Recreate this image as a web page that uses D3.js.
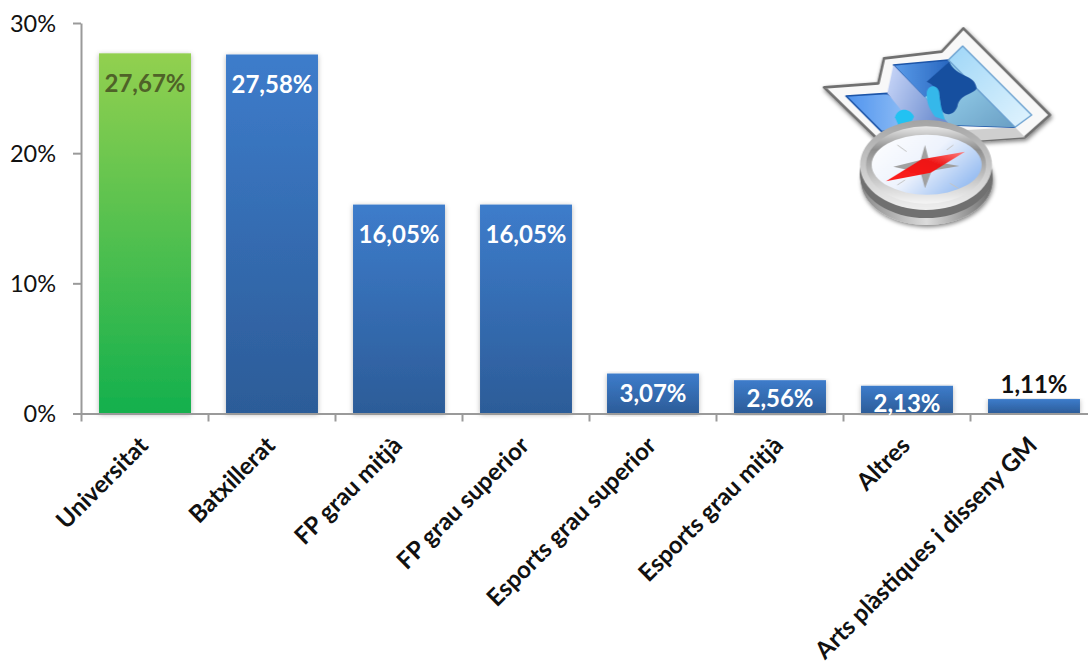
<!DOCTYPE html>
<html>
<head>
<meta charset="utf-8">
<script src="https://cdn.jsdelivr.net/npm/d3@7"></script>
<style>
html,body{margin:0;padding:0;background:#fff;overflow:hidden}
svg{display:block}
svg text{font-family:Lato,"Open Sans",sans-serif}
</style>
</head>
<body>
<svg id="chart" width="1088" height="667"></svg>
<script>
// Destination shares per study path, in percent
const categories = ["Universitat","Batxillerat","FP grau mitjà","FP grau superior","Esports grau superior","Esports grau mitjà","Altres","Arts plàstiques i disseny GM"];
const values = [27.67,27.58,16.05,16.05,3.07,2.56,2.13,1.11];
const yTicks = [0,10,20,30];

const svg = d3.select("#chart");
const defs = svg.append("defs");

function lGrad(id, x1,y1,x2,y2, stops){
  const g = defs.append("linearGradient").attr("id",id).attr("x1",x1).attr("y1",y1).attr("x2",x2).attr("y2",y2);
  stops.forEach(([o,c])=>g.append("stop").attr("offset",o).attr("stop-color",c));
}
lGrad("barGreen",0,0,0,1,[[0,"#92d050"],[1,"#14b04e"]]);
lGrad("barBlue",0,0,0,1,[[0,"#3d7ccb"],[1,"#2c5c98"]]);

const shadow = defs.append("filter").attr("id","barShadow").attr("x","-15%").attr("y","-5%").attr("width","130%").attr("height","112%");
shadow.append("feDropShadow").attr("dx",0).attr("dy",1).attr("stdDeviation",2.5).attr("flood-color","#000").attr("flood-opacity",0.28);

const x = d3.scaleBand().domain(categories).range([81,1097]).paddingInner(0.276).paddingOuter(0.138);
const y = d3.scaleLinear().domain([0,30]).range([413.5,23]);
const fmt = d3.formatLocale({decimal:",",thousands:".",grouping:[3],currency:["","€"]}).format(".2f");

// Bars
svg.append("g").selectAll("rect").data(categories).join("rect")
  .attr("x",d=>x(d)+0.5)
  .attr("width",x.bandwidth())
  .attr("y",(d,i)=>y(values[i]))
  .attr("height",(d,i)=>y(0)-y(values[i]))
  .attr("fill",(d,i)=>i===0?"url(#barGreen)":"url(#barBlue)")
  .attr("filter","url(#barShadow)");

// Axes
const yAxis = svg.append("g").attr("transform","translate(81,0)")
  .call(d3.axisLeft(y).tickValues(yTicks).tickFormat(d=>d+"%").tickSize(8).tickSizeOuter(0).tickPadding(17));
const xAxis = svg.append("g").attr("transform","translate(0,413.5)")
  .call(d3.axisBottom(d3.scaleLinear().domain([0,8]).range([81,1097])).ticks(8).tickSize(8).tickSizeOuter(0).tickFormat(""));
[yAxis,xAxis].forEach(a=>{
  a.attr("font-family",null);
  a.selectAll("path,line").attr("stroke","#9a9a9a").attr("stroke-width",2).attr("fill","none");
});
yAxis.selectAll("text").attr("font-size",23.5).attr("fill","#111").attr("dy","0.34em");

// Rotated category labels
svg.append("g").selectAll("text").data(categories).join("text")
  .attr("text-anchor","end")
  .attr("font-size",24)
  .attr("font-weight",700)
  .attr("fill","#111")
  .attr("transform",d=>`translate(${x(d)+x.bandwidth()/2+5},${447}) rotate(-45)`)
  .text(d=>d);

// Value labels: inside the bar end, centred in short bars, above the smallest one
svg.append("g").selectAll("text").data(values).join("text")
  .attr("text-anchor","middle")
  .attr("dy","0.35em")
  .attr("font-size",24)
  .attr("font-weight",700)
  .attr("x",(d,i)=>x(categories[i])+x.bandwidth()/2+0.5)
  .attr("y",d=>{
    const h = y(0)-y(d);
    if(h<20) return y(d)-14;
    return y(d)+Math.min(30,Math.max(h/2,18));
  })
  .attr("fill",(d,i)=>i===0?"#4f6228":(y(0)-y(d)<20?"#111":"#fff"))
  .text(d=>fmt(d)+"%");

// Map-and-compass emblem in the upper right
lGrad("mapLeft",0,0,1,0,[[0,"#4f93ee"],[1,"#a6cdf8"]]);
lGrad("mapFold",0,0,1,0.4,[[0,"#ccd9fa"],[1,"#6f8fd0"]]);
lGrad("mapTop",0,0,1,0,[[0,"#5c9dea"],[0.55,"#1f5db8"],[1,"#0f4a9e"]]);
lGrad("mapLow",0,0,1,1,[[0,"#a6e2fb"],[1,"#6a9fc4"]]);
lGrad("mapEdge",0,0,1,1,[[0,"#9ed6f7"],[1,"#e2f4fe"]]);
lGrad("rimTop",0,0,0,1,[[0,"#a4a4a4"],[0.5,"#c6c6c6"],[1,"#efefef"]]);
lGrad("rimLow",0,0,1,0,[[0,"#8a8a8a"],[0.5,"#dcdcdc"],[1,"#6c6c6c"]]);
lGrad("rimIn",0,0,0,1,[[0,"#e8e8e8"],[0.3,"#8e8e8e"],[1,"#f5f5f5"]]);
lGrad("dial",0,0,1,0.6,[[0,"#ffffff"],[0.55,"#eef3fd"],[1,"#9cc0f2"]]);
lGrad("needle",0,1,1,0,[[0,"#ff2020"],[0.6,"#ee1414"],[1,"#ff8080"]]);
const soft = defs.append("filter").attr("id","iconShadow").attr("x","-10%").attr("y","-10%").attr("width","125%").attr("height","125%");
soft.append("feDropShadow").attr("dx",3).attr("dy",6).attr("stdDeviation",7).attr("flood-color","#000").attr("flood-opacity",0.5);
const smooth = defs.append("filter").attr("id","iconSoft");
smooth.append("feGaussianBlur").attr("stdDeviation",1.8);

const icon = svg.append("g").attr("transform","translate(810,10) scale(0.3333)").attr("filter","url(#iconSoft)");
const P = (d,fill,attrs={})=>{const p=icon.append("path").attr("d",d).attr("fill",fill);Object.entries(attrs).forEach(([k,v])=>p.attr(k,v));return p;};
const E = (cx,cy,rx,ry,fill,attrs={})=>{const e=icon.append("ellipse").attr("cx",cx).attr("cy",cy).attr("rx",rx).attr("ry",ry).attr("fill",fill);Object.entries(attrs).forEach(([k,v])=>e.attr(k,v));return e;};

// Folded map
P("M42,232 L205,220 L222,145 L395,125 L460,55 L720,315 L645,382 L500,392 L200,385 Z","#f8f8f8",{stroke:"#707070","stroke-width":8,"stroke-linejoin":"round",filter:"url(#iconShadow)"});
P("M500,392 L645,382 L615,352 L470,360 Z","#cfcfcf");
P("M108,258 L232,250 L360,350 L215,365 Z","url(#mapLeft)",{stroke:"#1d55a8","stroke-width":5,"stroke-linejoin":"round"});
P("M250,165 L415,150 L615,352 L420,345 Z","url(#mapTop)",{stroke:"#1d55a8","stroke-width":4,"stroke-linejoin":"round"});
P("M232,250 L250,165 L425,345 L310,345 Z","url(#mapFold)");
P("M415,150 L615,352 L420,345 L345,262 L430,190 Z","url(#mapLow)");
P("M415,150 L458,108 L665,315 L615,352 Z","url(#mapEdge)",{stroke:"#6aa0d0","stroke-width":4,"stroke-linejoin":"round"});
P("M418,155 C440,205 495,190 500,235 C490,255 450,250 442,290 C430,320 398,320 392,292 C388,262 392,235 350,215 Z","#184f9f");
P("M350,250 C352,222 385,222 388,250 C390,275 392,290 405,330 L375,320 C355,295 350,275 350,250 Z","#35b8ea");
P("M255,322 C262,292 300,292 312,320 L296,352 L268,352 Z","#22c2f2");

// Compass case
E(350,510,198,135,"url(#rimLow)",{filter:"url(#iconShadow)"});
E(348,492,199,132,"#6f6f6f");
E(348,465,198,135,"url(#rimTop)");
E(348,465,180,116,"url(#rimIn)");
E(350,464,165,90,"url(#dial)");
// Dial marks, star and needle
P("M262,405 L290,425 M420,520 L445,535 M430,405 L410,420 M262,525 L285,510","none",{stroke:"#c4c4c4","stroke-width":3});
P("M345,405 L357,452 L448,468 L365,482 L345,535 L332,488 L250,470 L332,450 Z","#a0a0a0");
P("M228,514 L335,448 L465,425 L362,488 Z","url(#needle)");
</script>
</body>
</html>
